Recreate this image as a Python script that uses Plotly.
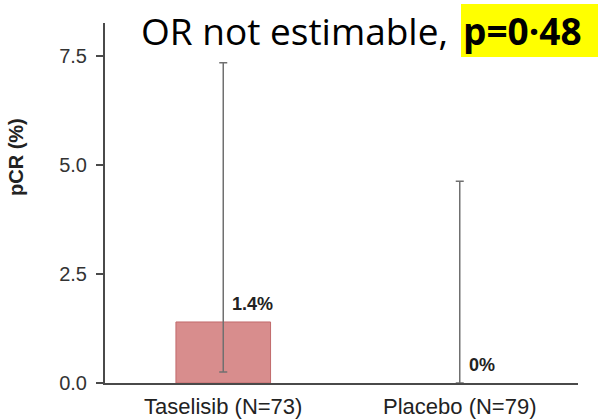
import plotly.graph_objects as go

# pCR by arm with 95% confidence intervals
arms = ["Taselisib (N=73)", "Placebo (N=79)"]
pcr = [1.4, 0.0]
ci_low = [0.25, 0.0]
ci_high = [7.35, 4.63]
value_labels = ["1.4%", "0%"]
y_ticks = [0.0, 2.5, 5.0, 7.5]

AXIS_FONT = "Liberation Sans, Arial, sans-serif"

fig = go.Figure()
fig.add_trace(go.Bar(
    x=arms,
    y=pcr,
    width=0.4,
    marker=dict(color="#d88d8d",
                line=dict(color="#c26a6c", width=[1 if v > 0 else 0 for v in pcr])),
    error_y=dict(
        type="data",
        symmetric=False,
        array=[h - v for h, v in zip(ci_high, pcr)],
        arrayminus=[v - l for v, l in zip(pcr, ci_low)],
        color="#707070",
        thickness=1.5,
        width=4,
    ),
    showlegend=False,
    hoverinfo="skip",
))

# value labels beside each bar
for arm, v, lab in zip(arms, pcr, value_labels):
    fig.add_annotation(
        x=arm, y=v, xref="x", yref="y", text=f"<b>{lab}</b>",
        showarrow=False, xanchor="left", yanchor="bottom",
        xshift=7, yshift=6,
        font=dict(family=AXIS_FONT, size=18, color="#222222"),
    )

# pixel -> paper helpers for the fixed 598x419 canvas
def px_x(px):
    return (px - 105) / 473

def px_y(py):
    return (383 - py) / 360

# y-axis title, set a little above the axis middle
fig.add_annotation(
    x=px_x(16), y=px_y(157), xref="paper", yref="paper",
    text="<b>pCR (%)</b>", textangle=-90, showarrow=False,
    xanchor="center", yanchor="middle",
    font=dict(family=AXIS_FONT, size=20, color="#222222"),
)

# headline: odds ratio and highlighted p-value
fig.add_shape(
    type="rect", xref="paper", yref="paper",
    x0=px_x(461), x1=px_x(598), y0=px_y(57), y1=px_y(4),
    fillcolor="#ffff00", line=dict(width=0), layer="below",
)
fig.add_annotation(
    x=px_x(450), y=px_y(30), xref="paper", yref="paper",
    text="OR not estimable,", showarrow=False, xanchor="right", yanchor="middle",
    font=dict(family="Open Sans, sans-serif", size=37, color="#000000"),
)
fig.add_annotation(
    x=px_x(461), y=px_y(30), xref="paper", yref="paper",
    text="<b>p=0·48</b>", showarrow=False, xanchor="left", yanchor="middle",
    font=dict(family="Open Sans, sans-serif", size=37, color="#000000"),
)

fig.update_layout(
    width=598, height=419,
    margin=dict(l=105, r=20, t=23, b=36),
    paper_bgcolor="#ffffff", plot_bgcolor="#ffffff",
    bargap=0.6,
)
fig.update_xaxes(
    range=[-0.5, 1.5], automargin=False,
    showline=True, linecolor="#4a4a4a", linewidth=2,
    ticks="", showgrid=False, zeroline=False,
    ticklabelstandoff=3,
    tickfont=dict(family=AXIS_FONT, size=22, color="#222222"),
)
fig.update_yaxes(
    range=[0, 8.26], automargin=False,
    tickvals=y_ticks, ticktext=[f"{t:.1f}" for t in y_ticks],
    showline=True, linecolor="#4a4a4a", linewidth=2,
    ticks="outside", ticklen=7, tickcolor="#4a4a4a", tickwidth=1.5,
    ticklabelstandoff=5,
    showgrid=False, zeroline=False,
    tickfont=dict(family=AXIS_FONT, size=20, color="#333333"),
)

fig.write_html("out.html")
